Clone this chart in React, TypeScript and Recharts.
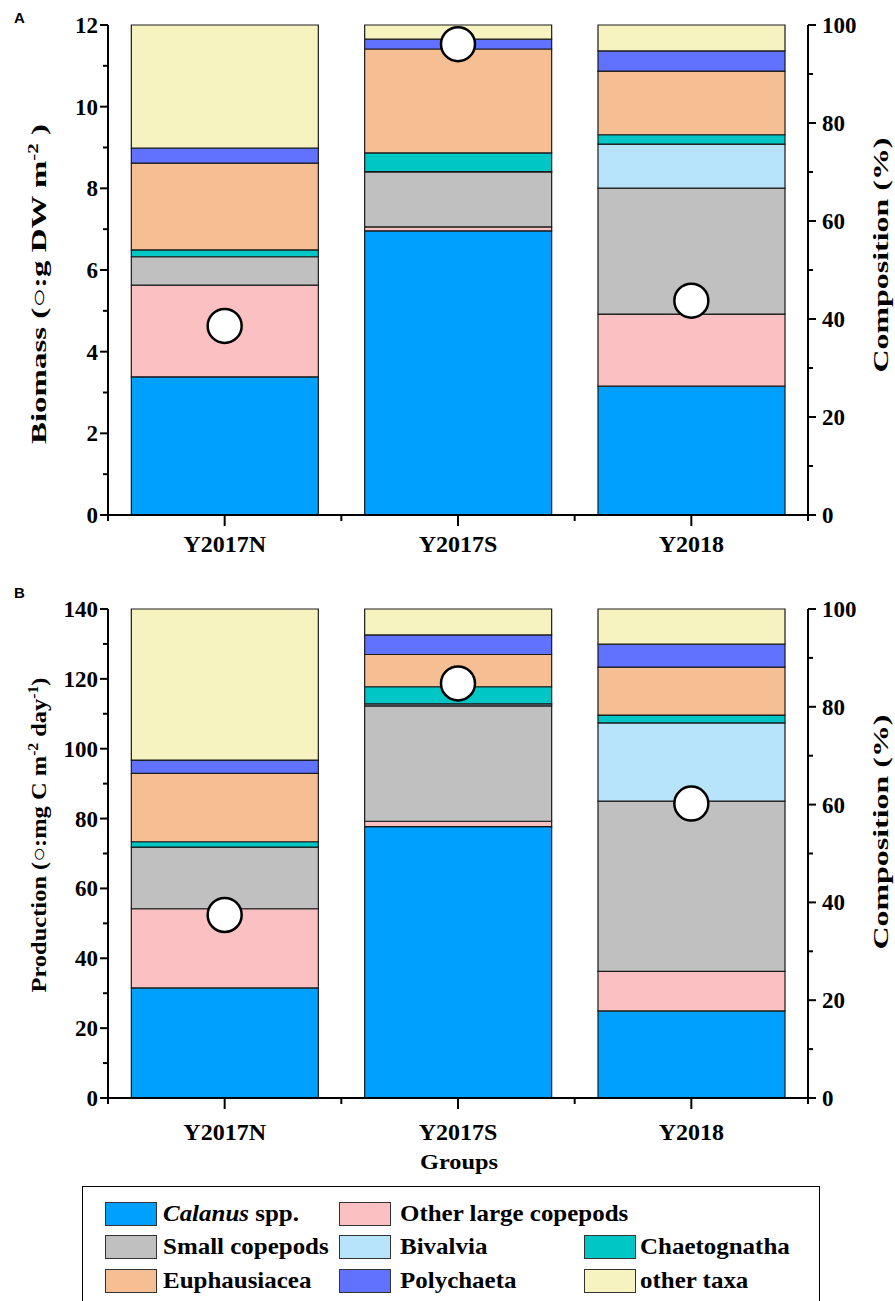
import React from 'react';
import { ComposedChart, Bar, Scatter, XAxis, YAxis } from 'recharts';

// groups on the x axis
const groups = ['Y2017N', 'Y2017S', 'Y2018'];

// A: biomass composition (%)
const calanusA = [28.2, 58.0, 26.3];
const otherLargeA = [18.7, 0.8, 14.7];
const smallA = [5.8, 11.2, 25.7];
const bivalviaA = [0, 0.1, 9.0];
const chaetoA = [1.4, 3.8, 1.9];
const euphA = [17.7, 21.2, 13.0];
const polyA = [3.1, 2.0, 4.1];
const otherTaxaA = [25.1, 2.9, 5.3];
// A: total biomass (g DW m-2), white circles
const biomassTotal = [4.63, 11.53, 5.25];

// B: production composition (%)
const calanusB = [22.5, 55.5, 17.8];
const otherLargeB = [16.2, 1.1, 8.1];
const smallB = [12.6, 23.6, 34.8];
const bivalviaB = [0, 0.4, 16.0];
const chaetoB = [1.1, 3.5, 1.6];
const euphB = [14.0, 6.6, 9.8];
const polyB = [2.7, 4.0, 4.7];
const otherTaxaB = [30.9, 5.3, 7.2];
// B: total production (mg C m-2 day-1), white circles
const productionTotal = [52.4, 118.7, 84.3];

// tick values
const biomassTicks = [0, 1, 2, 3, 4, 5, 6, 7, 8, 9, 10, 11, 12];
const productionTicks = [0, 10, 20, 30, 40, 50, 60, 70, 80, 90, 100, 110, 120, 130, 140];
const pctTicks = [0, 10, 20, 30, 40, 50, 60, 70, 80, 90, 100];

const taxa = [
  { key: 'calanus', label: 'Calanus', color: '#00A0FF' },
  { key: 'otherLarge', label: 'Other large copepods', color: '#FBC0C1' },
  { key: 'small', label: 'Small copepods', color: '#C0C0C0' },
  { key: 'bivalvia', label: 'Bivalvia', color: '#B8E4FB' },
  { key: 'chaeto', label: 'Chaetognatha', color: '#00C7C6' },
  { key: 'euph', label: 'Euphausiacea', color: '#F6BF93' },
  { key: 'poly', label: 'Polychaeta', color: '#6072FF' },
  { key: 'otherTaxa', label: 'other taxa', color: '#F6F3C0' },
];

const dataA = groups.map((g, i) => ({
  group: g,
  calanus: calanusA[i],
  otherLarge: otherLargeA[i],
  small: smallA[i],
  bivalvia: bivalviaA[i],
  chaeto: chaetoA[i],
  euph: euphA[i],
  poly: polyA[i],
  otherTaxa: otherTaxaA[i],
  total: biomassTotal[i],
}));

const dataB = groups.map((g, i) => ({
  group: g,
  calanus: calanusB[i],
  otherLarge: otherLargeB[i],
  small: smallB[i],
  bivalvia: bivalviaB[i],
  chaeto: chaetoB[i],
  euph: euphB[i],
  poly: polyB[i],
  otherTaxa: otherTaxaB[i],
  total: productionTotal[i],
}));

const W = 895;
const LEFT_W = 108;
const RIGHT_W = 87;
const HALF_BAND = (W - LEFT_W - RIGHT_W) / 6;
const SERIF = '"Liberation Serif", "Times New Roman", serif';

const LeftTick = ({ x, y, payload, every }: any) => {
  const major = payload.value % every === 0;
  const len = major ? 8 : 5;
  return (
    <g>
      <line x1={x - len} x2={x} y1={y} y2={y} stroke="#000" strokeWidth={2} />
      {major && (
        <text x={x - 10} y={y + 8} textAnchor="end" fontFamily={SERIF} fontWeight="bold" fontSize={23} fill="#000">
          {payload.value}
        </text>
      )}
    </g>
  );
};

const RightTick = ({ x, y, payload }: any) => {
  const major = payload.value % 20 === 0;
  const len = major ? 8 : 5;
  return (
    <g>
      <line x1={x} x2={x + len} y1={y} y2={y} stroke="#000" strokeWidth={2} />
      {major && (
        <text x={x + 14} y={y + 8} textAnchor="start" fontFamily={SERIF} fontWeight="bold" fontSize={23} fill="#000">
          {payload.value}
        </text>
      )}
    </g>
  );
};

const BottomTick = ({ x, y, payload, index, dy }: any) => (
  <g>
    <line x1={x} x2={x} y1={y} y2={y + 11} stroke="#000" strokeWidth={2} />
    <line x1={x - HALF_BAND} x2={x - HALF_BAND} y1={y} y2={y + 6} stroke="#000" strokeWidth={2} />
    {index === groups.length - 1 && (
      <line x1={x + HALF_BAND} x2={x + HALF_BAND} y1={y} y2={y + 6} stroke="#000" strokeWidth={2} />
    )}
    <text x={x} y={y + dy} textAnchor="middle" fontFamily={SERIF} fontWeight="bold" fontSize={24} fill="#000">
      {payload.value}
    </text>
  </g>
);

const WhiteCircle = (props: any) => {
  const { cx, cy } = props;
  if (cx == null || cy == null) return <g />;
  return <circle cx={cx} cy={cy} r={17} fill="#fff" stroke="#000" strokeWidth={2.5} />;
};

const titleStyle = { fontFamily: SERIF, fontWeight: 'bold' as const, fontSize: 22, fill: '#000' };

function Panel({
  data,
  maxAbs,
  absTicks,
  top,
  height,
  marginTop,
  xAxisHeight,
  tickDy,
  leftTitle,
  leftTitleY,
  leftTitleLen,
  rightTitleY,
  rightTitleLen,
  groupsLabel,
}: any) {
  return (
    <div style={{ position: 'absolute', left: 0, top, width: W, height }}>
      <ComposedChart
        width={W}
        height={height}
        data={data}
        margin={{ top: marginTop, right: 0, left: 0, bottom: 0 }}
        barCategoryGap="10%"
      >
        <XAxis
          dataKey="group"
          height={xAxisHeight}
          axisLine={{ stroke: '#000', strokeWidth: 2 }}
          tickLine={false}
          tickSize={0}
          tickMargin={0}
          interval={0}
          tick={(p: any) => <BottomTick {...p} dy={tickDy} />}
        />
        <YAxis
          yAxisId="abs"
          orientation="left"
          width={LEFT_W}
          domain={[0, maxAbs]}
          ticks={absTicks}
          interval={0}
          axisLine={{ stroke: '#000', strokeWidth: 2 }}
          tickLine={false}
          tickSize={0}
          tickMargin={0}
          tick={(p: any) => <LeftTick {...p} every={maxAbs > 20 ? 20 : 2} />}
        />
        <YAxis
          yAxisId="pct"
          orientation="right"
          width={RIGHT_W}
          domain={[0, 100]}
          ticks={pctTicks}
          interval={0}
          axisLine={{ stroke: '#000', strokeWidth: 2 }}
          tickLine={false}
          tickSize={0}
          tickMargin={0}
          tick={(p: any) => <RightTick {...p} />}
        />
        {taxa.map((t) => (
          <Bar
            key={t.key}
            yAxisId="pct"
            dataKey={t.key}
            stackId="comp"
            fill={t.color}
            stroke="#1a1a1a"
            strokeWidth={1.2}
            isAnimationActive={false}
          />
        ))}
        <Scatter yAxisId="abs" dataKey="total" shape={WhiteCircle} isAnimationActive={false} />
      </ComposedChart>
      <svg width={W} height={height} style={{ position: 'absolute', left: 0, top: 0, pointerEvents: 'none' }}>
        <text
          transform={`translate(46, ${leftTitleY}) rotate(-90)`}
          textAnchor="middle"
          textLength={leftTitleLen}
          lengthAdjust="spacingAndGlyphs"
          {...titleStyle}
        >
          {leftTitle}
        </text>
        <text
          transform={`translate(888, ${rightTitleY}) rotate(-90)`}
          textAnchor="middle"
          textLength={rightTitleLen}
          lengthAdjust="spacingAndGlyphs"
          {...titleStyle}
        >
          Composition (%)
        </text>
        {groupsLabel && (
          <text x={459} y={height - 11} textAnchor="middle" textLength={78} lengthAdjust="spacingAndGlyphs" {...titleStyle}>
            Groups
          </text>
        )}
      </svg>
    </div>
  );
}

const legendRows = [
  ['calanus', 'otherLarge'],
  ['small', 'bivalvia', 'chaeto'],
  ['euph', 'poly', 'otherTaxa'],
];
const swatchX = [105, 339, 584];
const textX = [163, 400, 640];

function LegendBox() {
  return (
    <div
      style={{
        position: 'absolute',
        left: 82,
        top: 1186,
        width: 738,
        height: 130,
        border: '1.5px solid #000',
        boxSizing: 'border-box',
        background: '#fff',
      }}
    >
      {legendRows.map((row, r) =>
        row.map((key, c) => {
          const t = taxa.find((tt) => tt.key === key)!;
          const top = 15 + r * 33.3;
          return (
            <React.Fragment key={key}>
              <div
                style={{
                  position: 'absolute',
                  left: swatchX[c] - 83,
                  top,
                  width: 52,
                  height: 24,
                  background: t.color,
                  border: '1px solid #333',
                  boxSizing: 'border-box',
                }}
              />
              <div
                style={{
                  position: 'absolute',
                  left: textX[c] - 83,
                  top: top - 3,
                  fontFamily: SERIF,
                  fontWeight: 'bold',
                  fontSize: 23,
                  lineHeight: '30px',
                  whiteSpace: 'nowrap',
                  transform: 'scaleX(1.085)',
                  transformOrigin: 'left center',
                }}
              >
                {key === 'calanus' ? (
                  <>
                    <i>Calanus</i> spp.
                  </>
                ) : (
                  t.label
                )}
              </div>
            </React.Fragment>
          );
        })
      )}
    </div>
  );
}

export default function App() {
  const biomassTitle = (
    <>
      Biomass (○:g DW m<tspan dy={-8} fontSize={14}>-2</tspan>
      <tspan dy={8}> )</tspan>
    </>
  );
  const prodTitle = (
    <>
      Production (○:mg C m<tspan dy={-8} fontSize={14}>-2</tspan>
      <tspan dy={8}> day</tspan>
      <tspan dy={-8} fontSize={14}>-1</tspan>
      <tspan dy={8}>)</tspan>
    </>
  );
  return (
    <div style={{ position: 'absolute', left: 0, top: 0, width: W, height: 1301, overflow: 'hidden', background: '#fff' }}>
      <div style={{ position: 'absolute', left: 14, top: 9, fontFamily: '"Liberation Sans", Arial, sans-serif', fontWeight: 'bold', fontSize: 15 }}>A</div>
      <div style={{ position: 'absolute', left: 14, top: 584, fontFamily: '"Liberation Sans", Arial, sans-serif', fontWeight: 'bold', fontSize: 15 }}>B</div>
      <Panel
        data={dataA}
        maxAbs={12}
        absTicks={biomassTicks}
        top={0}
        height={560}
        marginTop={25}
        xAxisHeight={45}
        tickDy={37}
        leftTitle={biomassTitle}
        leftTitleY={284}
        leftTitleLen={320}
        rightTitleY={255}
        rightTitleLen={235}
        groupsLabel={false}
      />
      <Panel
        data={dataB}
        maxAbs={140}
        absTicks={productionTicks}
        top={580}
        height={600}
        marginTop={29}
        xAxisHeight={82}
        tickDy={42}
        leftTitle={prodTitle}
        leftTitleY={255}
        leftTitleLen={315}
        rightTitleY={252}
        rightTitleLen={235}
        groupsLabel={true}
      />
      <LegendBox />
    </div>
  );
}
